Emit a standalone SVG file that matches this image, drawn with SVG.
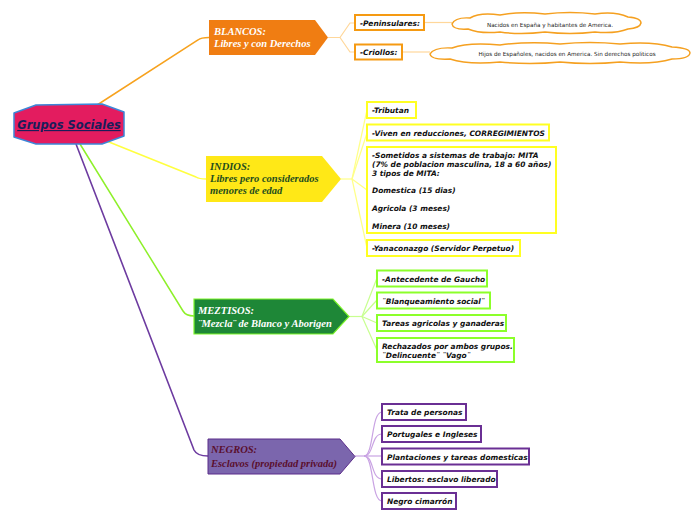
<svg xmlns="http://www.w3.org/2000/svg" width="696" height="520" viewBox="0 0 696 520">
<style>
.ntxt{font-family:"Liberation Serif","Times New Roman",serif;font-weight:bold;font-style:italic;font-size:10.5px}
.ctxt{font-family:"DejaVu Sans",Verdana,sans-serif;font-weight:bold;font-style:italic;font-size:7.45px;fill:#111}
.cloudtxt{font-family:"DejaVu Sans",Verdana,sans-serif;font-size:5.65px;fill:#222;text-anchor:middle}
.box{fill:#fff;stroke-width:2}
.oy{stroke:#f59a12}
.yb{stroke:#ffff22}
.gb{stroke:#8cff2a}
.pb{stroke:#6a2f94}
.conn path{fill:none}
.cloud{fill:#fff;stroke:#f5a020;stroke-width:1.5}
</style>
<rect width="696" height="520" fill="#fff"/>
<g id="connectors" class="conn">
  <path d="M94,107 L198,40 Q201,37.5 209,37.5" stroke="#f7a21e" stroke-width="1.5"/>
  <path d="M104,140 L196,177 Q199,179 206,179" stroke="#ffff40" stroke-width="1.5"/>
  <path d="M80,144 L183,311 Q186,316 194,316" stroke="#8ef02a" stroke-width="1.5"/>
  <path d="M76,144 L194,450 Q197,456 208,456" stroke="#6d3ba0" stroke-width="1.6"/>
  <g stroke="#ffd79a" stroke-width="1.2">
    <path d="M328,37.5 L340,37.5 L350,23 L355,23"/>
    <path d="M340,37.5 L350,52 L355,52"/>
    <path d="M424,22.5 L452,22.5"/>
    <path d="M402,52 L430,52"/>
  </g>
  <g stroke="#ffff88" stroke-width="1.2">
    <path d="M341,179 L352,179"/>
    <path d="M352,179 L367,110"/>
    <path d="M352,179 L367,133"/>
    <path d="M352,179 L367,190"/>
    <path d="M352,179 L367,248"/>
  </g>
  <g stroke="#c8ff90" stroke-width="1.2">
    <path d="M349,316.5 L362,316.5"/>
    <path d="M362,316.5 L377,278"/>
    <path d="M362,316.5 L377,300"/>
    <path d="M362,316.5 L377,323"/>
    <path d="M362,316.5 L377,350"/>
  </g>
  <g stroke="#c9a3e3" stroke-width="1.2">
    <path d="M355,456 L364,456"/>
    <path d="M364,456 C374,456 371,412 382,412"/>
    <path d="M364,456 C374,456 371,434 382,434"/>
    <path d="M364,456 L382,456"/>
    <path d="M364,456 C374,456 371,479 382,479"/>
    <path d="M364,456 C374,456 371,501 382,501"/>
  </g>
</g>
<g id="root">
  <path d="M14,113 L36,105 L102,104 L124,112 L124,136 L102,144 L36,144 L14,137 Z" fill="#e31c5f" stroke="#3d86d8" stroke-width="1.5" stroke-linejoin="round"/>
  <text x="69" y="129" text-anchor="middle" font-family="'DejaVu Sans',Verdana,sans-serif" font-weight="bold" font-style="italic" font-size="11.5" fill="#1a1d5a" text-decoration="underline">Grupos Sociales</text>
</g>
<g id="blancos">
  <polygon points="209,20 315,20 328,37.5 315,55 209,55" fill="#f07d12"/>
  <text class="ntxt" fill="#fff"><tspan x="214" y="35">BLANCOS:</tspan><tspan x="214" y="47">Libres y con Derechos</tspan></text>
</g>
<g id="peninsulares">
  <rect class="box oy" x="355" y="15" width="69" height="15"/>
  <text class="ctxt" x="360" y="25.5">-Peninsulares:</text>
</g>
<g id="criollos">
  <rect class="box oy" x="355" y="44.5" width="47" height="15"/>
  <text class="ctxt" x="360" y="55">-Criollos:</text>
</g>
<g id="cloud-peninsulares">
  <path class="cloud" d="M452,24 Q455,17 470,18 Q480,12 500,15 Q520,11 545,14 Q570,11 595,14 Q615,11 628,17 Q641,18 641,23 Q640,28 628,29 Q615,34 595,32 Q570,35 545,32 Q520,35 500,32 Q480,34 468,29 Q453,30 452,24 Z"/>
  <text class="cloudtxt" x="550" y="26.5">Nacidos en España y habitantes de America.</text>
</g>
<g id="cloud-criollos">
  <path class="cloud" d="M430,54 Q434,47 452,48 Q468,42 500,45 Q530,41 560,44 Q590,41 620,44 Q652,41 672,47 Q690,48 690,53 Q689,59 672,59 Q652,65 620,62 Q590,65 560,62 Q530,65 500,62 Q468,65 450,59 Q431,60 430,54 Z"/>
  <text class="cloudtxt" x="567" y="56">Hijos de Españoles, nacidos en America. Sin derechos politicos</text>
</g>
<g id="indios">
  <polygon points="206,156 322,156 341,179 322,202 206,202" fill="#ffe817"/>
  <text class="ntxt" fill="#1e4d1e"><tspan x="210" y="170">INDIOS:</tspan><tspan x="210" y="182">Libres pero considerados</tspan><tspan x="210" y="194">menores de edad</tspan></text>
</g>
<g id="tributan">
  <rect class="box yb" x="367" y="102" width="49" height="16"/>
  <text class="ctxt" x="372" y="113">-Tributan</text>
</g>
<g id="viven">
  <rect class="box yb" x="367" y="124.5" width="182" height="16"/>
  <text class="ctxt" x="372" y="135.5">-Viven en reducciones, CORREGIMIENTOS</text>
</g>
<g id="sometidos">
  <rect class="box yb" x="367" y="147" width="189" height="86"/>
  <text class="ctxt"><tspan x="372" y="158">-Sometidos a sistemas de trabajo: MITA</tspan><tspan x="372" y="167">(7% de poblacion masculina, 18 a 60 años)</tspan><tspan x="372" y="176">3 tipos de MITA:</tspan><tspan x="372" y="193">Domestica (15 dias)</tspan><tspan x="372" y="211">Agricola (3 meses)</tspan><tspan x="372" y="228.5">Minera (10 meses)</tspan></text>
</g>
<g id="yanaconazgo">
  <rect class="box yb" x="367" y="240" width="153" height="16"/>
  <text class="ctxt" x="372" y="251">-Yanaconazgo (Servidor Perpetuo)</text>
</g>
<g id="meztisos">
  <polygon points="194,299 333,299 349,316.5 333,334 194,334" fill="#1e8737" stroke="#7cf52a" stroke-width="1.2"/>
  <text class="ntxt" fill="#fff"><tspan x="198" y="314">MEZTISOS:</tspan><tspan x="198" y="327">¨Mezcla¨ de Blanco y Aborigen</tspan></text>
</g>
<g id="antecedente">
  <rect class="box gb" x="377" y="270.5" width="110" height="16"/>
  <text class="ctxt" x="382" y="281.5">-Antecedente de Gaucho</text>
</g>
<g id="blanqueamiento">
  <rect class="box gb" x="377" y="292.5" width="113" height="16"/>
  <text class="ctxt" x="382" y="303.5">¨Blanqueamiento social¨</text>
</g>
<g id="tareas">
  <rect class="box gb" x="377" y="315" width="129" height="16"/>
  <text class="ctxt" x="382" y="326">Tareas agricolas y ganaderas</text>
</g>
<g id="rechazados">
  <rect class="box gb" x="377" y="338" width="137" height="24"/>
  <text class="ctxt"><tspan x="382" y="348.5">Rechazados por ambos grupos.</tspan><tspan x="382" y="357.5">¨Delincuente¨ ¨Vago¨</tspan></text>
</g>
<g id="negros">
  <polygon points="208,439 340,439 355,456.5 340,474 208,474" fill="#7b66ad" stroke="#5b2d8a" stroke-width="1"/>
  <text class="ntxt" fill="#5a0f2e"><tspan x="211" y="453">NEGROS:</tspan><tspan x="211" y="467">Esclavos (propiedad privada)</tspan></text>
</g>
<g id="trata">
  <rect class="box pb" x="382" y="404" width="84" height="16"/>
  <text class="ctxt" x="387" y="415">Trata de personas</text>
</g>
<g id="portugales">
  <rect class="box pb" x="382" y="426" width="99" height="16"/>
  <text class="ctxt" x="387" y="437">Portugales e Ingleses</text>
</g>
<g id="plantaciones">
  <rect class="box pb" x="382" y="448.5" width="147" height="16"/>
  <text class="ctxt" x="387" y="459.5">Plantaciones y tareas domesticas</text>
</g>
<g id="libertos">
  <rect class="box pb" x="382" y="471" width="115" height="16"/>
  <text class="ctxt" x="387" y="482">Libertos: esclavo liberado</text>
</g>
<g id="cimarron">
  <rect class="box pb" x="382" y="493" width="74" height="16"/>
  <text class="ctxt" x="387" y="504">Negro cimarrón</text>
</g>
</svg>
